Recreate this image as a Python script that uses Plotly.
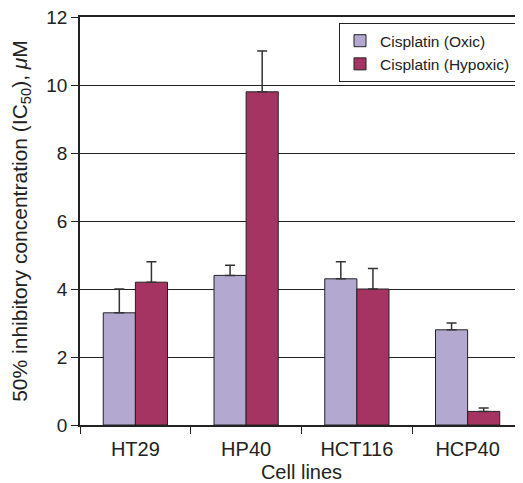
import plotly.graph_objects as go

cell_lines = ["HT29", "HP40", "HCT116", "HCP40"]
oxic = [3.3, 4.4, 4.3, 2.8]
oxic_err = [0.7, 0.3, 0.5, 0.2]
hypoxic = [4.2, 9.8, 4.0, 0.4]
hypoxic_err = [0.6, 1.2, 0.6, 0.1]

FONT = "Liberation Sans, Arial, Helvetica, sans-serif"

fig = go.Figure()
fig.add_trace(go.Bar(
    x=cell_lines, y=oxic, name="Cisplatin (Oxic)",
    marker=dict(color="#B3A9D0", line=dict(color="#222222", width=1)),
    error_y=dict(type="data", array=oxic_err, arrayminus=[0]*4, symmetric=False,
                 color="#333333", thickness=1.5, width=5),
))
fig.add_trace(go.Bar(
    x=cell_lines, y=hypoxic, name="Cisplatin (Hypoxic)",
    marker=dict(color="#A63463", line=dict(color="#222222", width=1)),
    error_y=dict(type="data", array=hypoxic_err, arrayminus=[0]*4, symmetric=False,
                 color="#333333", thickness=1.5, width=5),
))

fig.update_layout(
    width=515, height=475,
    margin=dict(l=72, r=0, t=9, b=58, autoexpand=False),
    paper_bgcolor="white", plot_bgcolor="white",
    barmode="group", bargap=0.42, bargroupgap=0,
    font=dict(family=FONT, color="#222222", size=19),
    showlegend=True,
    legend=dict(x=(516 - 80) / 443, y=0.985, xanchor="right", yanchor="top",
                bordercolor="#222222", borderwidth=1, bgcolor="white",
                font=dict(size=15.5), tracegroupgap=0, itemwidth=30),
    xaxis=dict(
        title=dict(text="Cell lines", font=dict(size=20), standoff=8),
        tickfont=dict(size=20), automargin=False, ticklabelstandoff=5,
        showline=True, linecolor="#222222", linewidth=1.5, mirror=True,
        ticks="outside", tickson="boundaries", ticklen=7, tickcolor="#222222",
        showgrid=False,
    ),
    yaxis=dict(
        title=dict(text="50% inhibitory concentration (IC<sub>50</sub>), <i>μ</i>M",
                   font=dict(size=21), standoff=19),
        range=[0, 12], dtick=2, tick0=0, automargin=False,
        ticklabeloverflow="allow",
        showline=True, linecolor="#222222", linewidth=1.5,
        ticks="outside", ticklen=7, tickcolor="#222222",
        showgrid=True, gridcolor="#222222", gridwidth=1,
        zeroline=False,
    ),
)

fig.write_html("out.html")
